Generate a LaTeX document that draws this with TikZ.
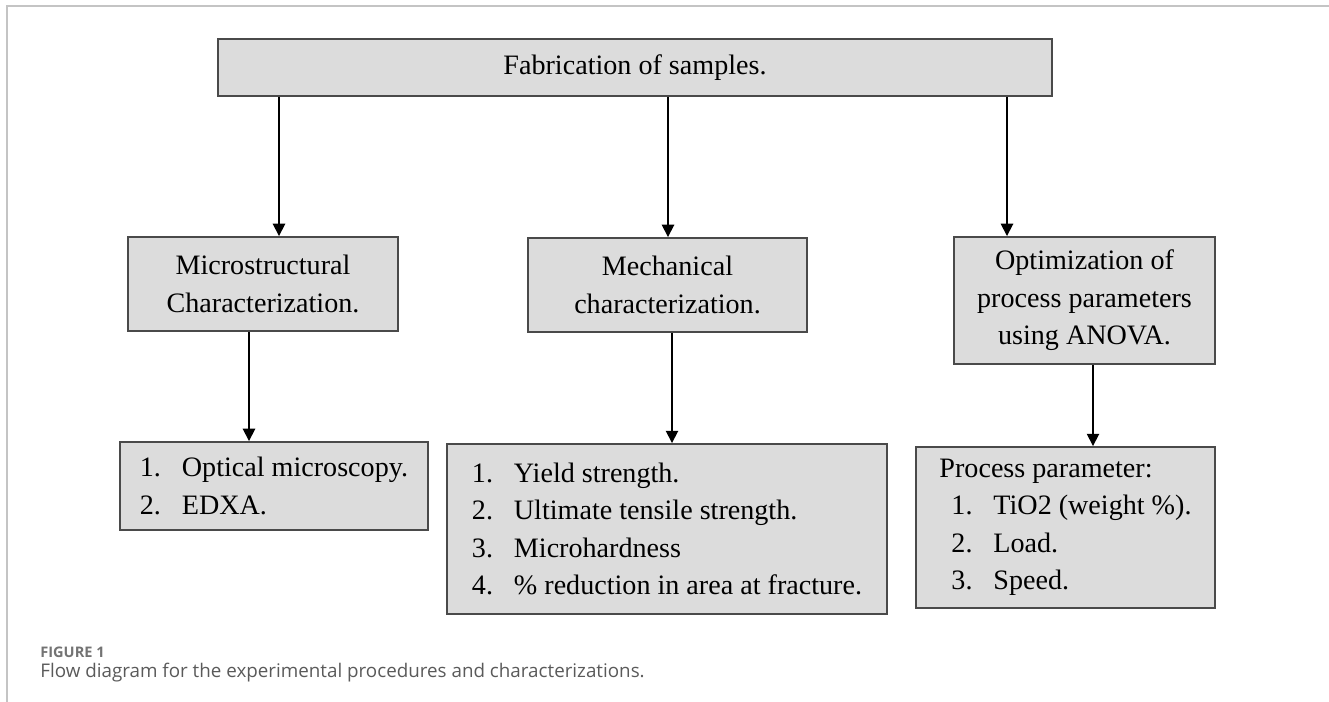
\documentclass[tikz,border=0pt]{standalone}
\usepackage{fontspec}
\setmainfont{Liberation Serif}
\newfontfamily\capfont{Open Sans}
\usetikzlibrary{positioning,arrows.meta}
\definecolor{boxfill}{HTML}{DCDCDC}
\definecolor{boxline}{HTML}{4A4A4A}
\definecolor{framegray}{HTML}{C4C4C4}
\definecolor{captext}{HTML}{5A5A5A}
\newcommand{\itm}[2]{\makebox[0.84cm][l]{#1}#2}

\begin{document}
\begin{tikzpicture}[
  x=0.02cm, y=-0.02cm,
  every node/.style={font=\fontsize{16}{21.3}\selectfont},
  box/.style={rectangle, draw=boxline, fill=boxfill, line width=1.1pt,
              align=center, inner sep=0pt},
  listbox/.style={box, align=left},
  arr/.style={-{Triangle[length=7pt,width=7pt]}, line width=1pt, black}
]
  \useasboundingbox (0,0) rectangle (1329,702);
  \draw[framegray, line width=0.8pt] (1329,6) -- (7,6) -- (7,702);

  \node[box, minimum width=16.68cm, minimum height=1.14cm] (fab)
    at (635, 67.5) {Fabrication of samples.};

  \node[box, minimum width=5.4cm, minimum height=1.88cm] (micro)
    at (263, 284) {Microstructural\\ Characterization.};
  \node[box, minimum width=5.58cm, minimum height=1.88cm] (mech)
    at (667.5, 285) {Mechanical\\ characterization.};
  \node[box, minimum width=5.22cm, minimum height=2.54cm] (opt)
    at (1084.5, 300.5) {Optimization of\\ process parameters\\ using ANOVA.};

  \node[listbox, minimum width=6.16cm, minimum height=1.76cm] (micrlist)
    at (274, 486) {\itm{1.}{Optical microscopy.}\\ \itm{2.}{EDXA.}};
  \node[listbox, minimum width=8.8cm, minimum height=3.4cm] (mechlist)
    at (667, 529) {\itm{1.}{Yield strength.}\\
      \itm{2.}{Ultimate tensile strength.}\\
      \itm{3.}{Microhardness}\\
      \itm{4.}{\% reduction in area at fracture.}};
  \node[listbox, minimum width=5.98cm, minimum height=3.22cm] (paramlist)
    at (1065.5, 527.5) {Process parameter:\\
      \hspace*{0.24cm}\itm{1.}{TiO2 (weight \%).}\\
      \hspace*{0.24cm}\itm{2.}{Load.}\\
      \hspace*{0.24cm}\itm{3.}{Speed.}};

  % arrow columns
  \coordinate (ca) at (279,0);
  \coordinate (cb) at (668,0);
  \coordinate (cc) at (1007,0);
  \coordinate (cd) at (249,0);
  \coordinate (ce) at (672,0);
  \coordinate (cf) at (1093,0);

  \draw[arr] (fab.south -| ca) -- (micro.north -| ca);
  \draw[arr] (fab.south -| cb) -- (mech.north -| cb);
  \draw[arr] (fab.south -| cc) -- (opt.north -| cc);
  \draw[arr] (micro.south -| cd) -- (micrlist.north -| cd);
  \draw[arr] (mech.south -| ce) -- (mechlist.north -| ce);
  \draw[arr] (opt.south -| cf) -- (paramlist.north -| cf);

  \node[anchor=base west, font=\capfont\bfseries\fontsize{8.3}{10}\selectfont,
        text=captext!85, inner sep=0pt] (figlabel) at (40,657) {FIGURE 1};
  \node[anchor=base west, font=\capfont\fontsize{10.7}{12}\selectfont,
        text=captext, inner sep=0pt] (figtext) at (40,677)
    {Flow diagram for the experimental procedures and characterizations.};
\end{tikzpicture}
\end{document}
